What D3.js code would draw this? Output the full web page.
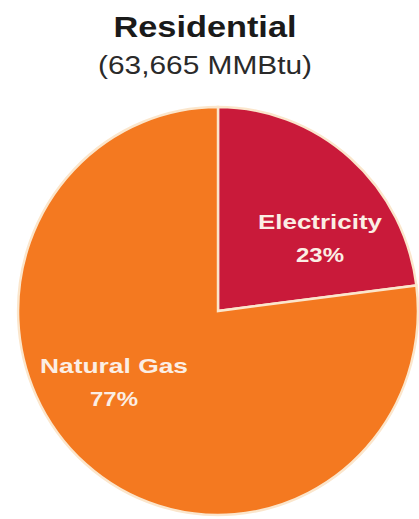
<!DOCTYPE html>
<html>
<head>
<meta charset="utf-8">
<script src="https://cdn.jsdelivr.net/npm/d3@7"></script>
<style>
  html, body { margin: 0; padding: 0; background: #fff; overflow: hidden; }
  svg { display: block; font-family: "Liberation Sans", Arial, sans-serif; }
</style>
</head>
<body>
<div id="chart"></div>
<script>
// chart data
const categories = ["Electricity", "Natural Gas"];
const shares = [23, 77];
const sliceColors = ["#c91a3a", "#f47920"];
const titleText = "Residential";
const subtitleText = "(63,665 MMBtu)";

// layout
const width = 419, height = 519;
const cx = 218, cy = 311, radius = 204;

const svg = d3.select("#chart")
    .append("svg")
    .attr("width", width)
    .attr("height", height);

// title
svg.append("text")
    .attr("x", 205)
    .attr("y", 37)
    .attr("text-anchor", "middle")
    .attr("textLength", 183)
    .attr("lengthAdjust", "spacingAndGlyphs")
    .style("font-size", "30px")
    .style("font-weight", "bold")
    .style("fill", "#1a1a1a")
    .text(titleText);

svg.append("text")
    .attr("x", 205)
    .attr("y", 74)
    .attr("text-anchor", "middle")
    .attr("textLength", 214)
    .attr("lengthAdjust", "spacingAndGlyphs")
    .style("font-size", "26px")
    .style("fill", "#2a2a2a")
    .text(subtitleText);

// pie
const pie = d3.pie().sort(null).value(d => d.value);
const arcs = pie(categories.map((c, i) => ({ name: c, value: shares[i], color: sliceColors[i] })));

const arc = d3.arc().innerRadius(0).outerRadius(radius);

const g = svg.append("g")
    .attr("transform", "translate(" + cx + "," + cy + ") scale(0.98,1)");

g.selectAll("path")
    .data(arcs)
    .enter()
    .append("path")
    .attr("d", arc)
    .style("fill", d => d.data.color)
    .style("stroke", "#fbe6cc")
    .style("stroke-width", 2.5)
    .style("stroke-linejoin", "miter");

// labels (placed in plain coordinates, not scaled)
const labelPos = [
    { x: 320, y: 229, w: 124 },
    { x: 114, y: 373, w: 148 }
];

arcs.forEach((d, i) => {
    const p = labelPos[i];
    const t = svg.append("text")
        .attr("text-anchor", "middle")
        .style("font-size", "21px")
        .style("font-weight", "bold")
        .style("fill", "#fbeee4");
    t.append("tspan")
        .attr("x", p.x)
        .attr("y", p.y)
        .attr("textLength", p.w)
        .attr("lengthAdjust", "spacingAndGlyphs")
        .text(d.data.name);
    t.append("tspan")
        .attr("x", p.x)
        .attr("y", p.y + 33)
        .attr("textLength", 48)
        .attr("lengthAdjust", "spacingAndGlyphs")
        .text(d.data.value + "%");
});
</script>
</body>
</html>
